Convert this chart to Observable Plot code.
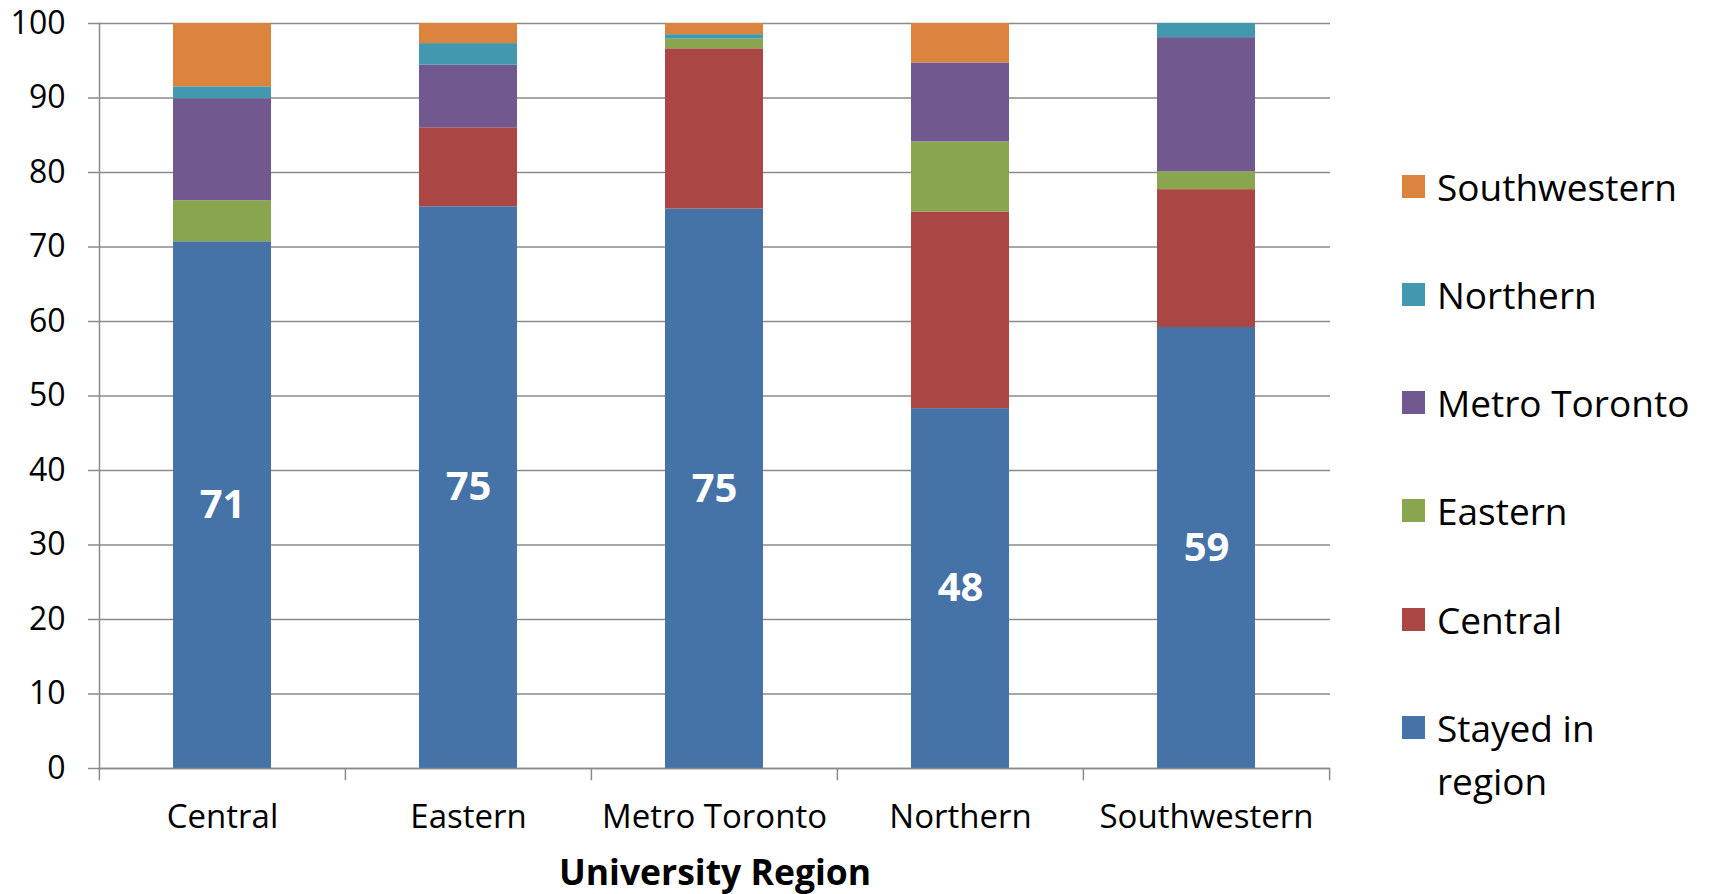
<!DOCTYPE html>
<html>
<head>
<meta charset="utf-8">
<script src="https://cdn.jsdelivr.net/npm/d3@7"></script>
<script src="https://cdn.jsdelivr.net/npm/@observablehq/plot@0.6"></script>
<style>
  html, body { margin: 0; padding: 0; background: #fff; }
  #wrap { position: relative; width: 1711px; height: 894px; font-family: "Open Sans", sans-serif; }
  #legend { position: absolute; left: 1402px; top: 0; }
  .item { position: absolute; left: 0; display: flex; align-items: flex-start; font-size: 37px; line-height: 53px; color: #000; }
  .sw { width: 23px; height: 23px; margin-top: 15px; margin-right: 12px; flex: none; }
</style>
</head>
<body>
<div id="wrap"><div id="chart"></div><div id="legend"></div></div>
<script>
const regions = ["Central", "Eastern", "Metro Toronto", "Northern", "Southwestern"];
const series = ["Stayed in region", "Central", "Eastern", "Metro Toronto", "Northern", "Southwestern"];
const colors = ["#4572A7", "#AA4643", "#89A54E", "#71588F", "#4198AF", "#DB843D"];

const stayed       = [70.7, 75.4, 75.1, 48.3, 59.2];
const toCentral    = [0,    10.6, 21.5, 26.4, 18.5];
const toEastern    = [5.5,  0,    1.3,  9.4,  2.4];
const toMetro      = [13.7, 8.4,  0,    10.6, 18.0];
const toNorthern   = [1.6,  2.9,  0.6,  0,    1.9];
const toSouthwest  = [8.5,  2.7,  1.5,  5.3,  0];

const yTicks = [0, 10, 20, 30, 40, 50, 60, 70, 80, 90, 100];
const xTitle = "University Region";

const seriesValues = [stayed, toCentral, toEastern, toMetro, toNorthern, toSouthwest];
const rows = [];
series.forEach((s, si) => regions.forEach((r, ri) => rows.push({region: r, series: s, value: seriesValues[si][ri]})));
const stayedRows = regions.map((r, i) => ({region: r, value: stayed[i]}));

const W = 1711, H = 894, mL = 99, mR = 381, mT = 23, mB = 126;
const step = (W - mL - mR) / regions.length;
const grid = "#8a8a8a";

const chart = Plot.plot({
  width: W, height: H,
  marginLeft: mL, marginRight: mR, marginTop: mT, marginBottom: mB,
  style: {fontFamily: "Open Sans, sans-serif", fontSize: "30px", color: "#000", background: "#fff"},
  x: {domain: regions, paddingInner: 0.6, paddingOuter: 0.3, label: null},
  y: {domain: [0, 100], label: null},
  color: {domain: series, range: colors},
  marks: [
    Plot.gridY(yTicks, {stroke: grid, strokeOpacity: 1, strokeWidth: 1.5}),
    Plot.barY(rows, {x: "region", y: "value", fill: "series"}),
    Plot.ruleY([0], {stroke: grid, strokeWidth: 1.5}),
    Plot.frame({anchor: "left", stroke: grid, strokeWidth: 1.5}),
    Plot.axisY({ticks: yTicks, tickSize: 11, tickPadding: 23, fontSize: 32, stroke: grid, strokeWidth: 1.5, label: null}),
    Plot.axisX({tickSize: 0, tickPadding: 36, fontSize: 33, label: null}),
    Plot.ruleX(regions, {x: d => d, dx: -step / 2, y1: 0, y2: -1.65, stroke: grid, strokeWidth: 1.5}),
    Plot.ruleX([regions[regions.length - 1]], {x: d => d, dx: step / 2, y1: 0, y2: -1.65, stroke: grid, strokeWidth: 1.5}),
    Plot.text(stayedRows, {x: "region", y: d => d.value / 2, text: d => String(Math.round(d.value)), fill: "#fff", fontWeight: "bold", fontSize: 40}),
    Plot.text([xTitle], {frameAnchor: "bottom", dy: 116, fontWeight: "bold", fontSize: 35.5, fill: "#000"})
  ]
});
document.getElementById("chart").append(chart);

const legend = document.getElementById("legend");
const order = series.map((s, i) => i).reverse();
order.forEach((si, k) => {
  const item = document.createElement("div");
  item.className = "item";
  item.style.top = (186 + k * 108.3 - 26.5) + "px";
  const sw = document.createElement("div");
  sw.className = "sw";
  sw.style.background = colors[si];
  const label = document.createElement("div");
  label.textContent = series[si];
  if (series[si].length > 14) { label.style.width = "210px"; } else { label.style.whiteSpace = "nowrap"; }
  item.append(sw, label);
  legend.append(item);
});
</script>
</body>
</html>
